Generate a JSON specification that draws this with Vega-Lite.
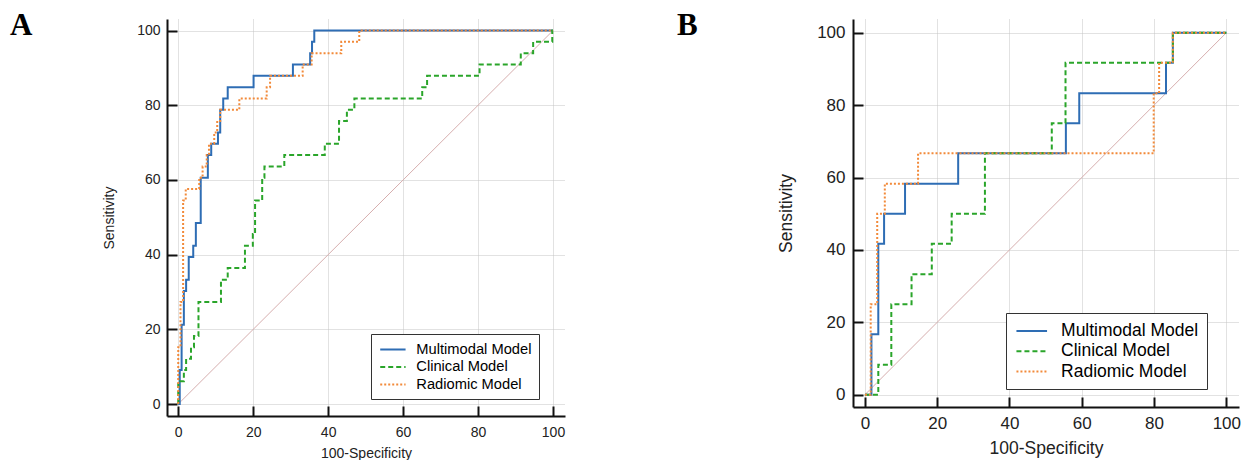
{
  "$schema": "https://vega.github.io/schema/vega-lite/v6.json",
  "background": "white",
  "padding": {"left": 10, "top": 10, "right": 0, "bottom": 0},
  "spacing": 112,
  "datasets": {
    "diag": [{"fpr": 0, "sens": 0}, {"fpr": 100, "sens": 100}],
    "rocA": [
      {"model": "Multimodal Model", "fpr": 0, "sens": 0},
      {"model": "Multimodal Model", "fpr": 0.4, "sens": 0},
      {"model": "Multimodal Model", "fpr": 0.4, "sens": 9.1},
      {"model": "Multimodal Model", "fpr": 0.9, "sens": 9.1},
      {"model": "Multimodal Model", "fpr": 0.9, "sens": 21.2},
      {"model": "Multimodal Model", "fpr": 1.5, "sens": 21.2},
      {"model": "Multimodal Model", "fpr": 1.5, "sens": 30.3},
      {"model": "Multimodal Model", "fpr": 2.1, "sens": 30.3},
      {"model": "Multimodal Model", "fpr": 2.1, "sens": 33.3},
      {"model": "Multimodal Model", "fpr": 2.8, "sens": 33.3},
      {"model": "Multimodal Model", "fpr": 2.8, "sens": 39.4},
      {"model": "Multimodal Model", "fpr": 4.0, "sens": 39.4},
      {"model": "Multimodal Model", "fpr": 4.0, "sens": 42.4},
      {"model": "Multimodal Model", "fpr": 4.7, "sens": 42.4},
      {"model": "Multimodal Model", "fpr": 4.7, "sens": 48.5},
      {"model": "Multimodal Model", "fpr": 6.0, "sens": 48.5},
      {"model": "Multimodal Model", "fpr": 6.0, "sens": 60.6},
      {"model": "Multimodal Model", "fpr": 7.9, "sens": 60.6},
      {"model": "Multimodal Model", "fpr": 7.9, "sens": 66.7},
      {"model": "Multimodal Model", "fpr": 8.8, "sens": 66.7},
      {"model": "Multimodal Model", "fpr": 8.8, "sens": 69.7},
      {"model": "Multimodal Model", "fpr": 10.6, "sens": 69.7},
      {"model": "Multimodal Model", "fpr": 10.6, "sens": 72.7},
      {"model": "Multimodal Model", "fpr": 11.2, "sens": 72.7},
      {"model": "Multimodal Model", "fpr": 11.2, "sens": 78.8},
      {"model": "Multimodal Model", "fpr": 12.0, "sens": 78.8},
      {"model": "Multimodal Model", "fpr": 12.0, "sens": 81.8},
      {"model": "Multimodal Model", "fpr": 13.2, "sens": 81.8},
      {"model": "Multimodal Model", "fpr": 13.2, "sens": 84.8},
      {"model": "Multimodal Model", "fpr": 20.1, "sens": 84.8},
      {"model": "Multimodal Model", "fpr": 20.1, "sens": 87.9},
      {"model": "Multimodal Model", "fpr": 30.6, "sens": 87.9},
      {"model": "Multimodal Model", "fpr": 30.6, "sens": 90.9},
      {"model": "Multimodal Model", "fpr": 35.2, "sens": 90.9},
      {"model": "Multimodal Model", "fpr": 35.2, "sens": 93.9},
      {"model": "Multimodal Model", "fpr": 35.7, "sens": 93.9},
      {"model": "Multimodal Model", "fpr": 35.7, "sens": 97.0},
      {"model": "Multimodal Model", "fpr": 36.3, "sens": 97.0},
      {"model": "Multimodal Model", "fpr": 36.3, "sens": 100},
      {"model": "Multimodal Model", "fpr": 100, "sens": 100},
      {"model": "Clinical Model", "fpr": 0, "sens": 0},
      {"model": "Clinical Model", "fpr": 0, "sens": 6.1},
      {"model": "Clinical Model", "fpr": 1.5, "sens": 6.1},
      {"model": "Clinical Model", "fpr": 1.5, "sens": 9.1},
      {"model": "Clinical Model", "fpr": 2.1, "sens": 9.1},
      {"model": "Clinical Model", "fpr": 2.1, "sens": 12.1},
      {"model": "Clinical Model", "fpr": 3.4, "sens": 12.1},
      {"model": "Clinical Model", "fpr": 3.4, "sens": 15.2},
      {"model": "Clinical Model", "fpr": 4.2, "sens": 15.2},
      {"model": "Clinical Model", "fpr": 4.2, "sens": 18.2},
      {"model": "Clinical Model", "fpr": 5.4, "sens": 18.2},
      {"model": "Clinical Model", "fpr": 5.4, "sens": 27.3},
      {"model": "Clinical Model", "fpr": 11.4, "sens": 27.3},
      {"model": "Clinical Model", "fpr": 11.4, "sens": 33.3},
      {"model": "Clinical Model", "fpr": 13.2, "sens": 33.3},
      {"model": "Clinical Model", "fpr": 13.2, "sens": 36.4},
      {"model": "Clinical Model", "fpr": 17.8, "sens": 36.4},
      {"model": "Clinical Model", "fpr": 17.8, "sens": 42.4},
      {"model": "Clinical Model", "fpr": 19.9, "sens": 42.4},
      {"model": "Clinical Model", "fpr": 19.9, "sens": 45.5},
      {"model": "Clinical Model", "fpr": 20.5, "sens": 45.5},
      {"model": "Clinical Model", "fpr": 20.5, "sens": 54.5},
      {"model": "Clinical Model", "fpr": 22.4, "sens": 54.5},
      {"model": "Clinical Model", "fpr": 22.4, "sens": 60.6},
      {"model": "Clinical Model", "fpr": 23.0, "sens": 60.6},
      {"model": "Clinical Model", "fpr": 23.0, "sens": 63.6},
      {"model": "Clinical Model", "fpr": 28.3, "sens": 63.6},
      {"model": "Clinical Model", "fpr": 28.3, "sens": 66.7},
      {"model": "Clinical Model", "fpr": 39.1, "sens": 66.7},
      {"model": "Clinical Model", "fpr": 39.1, "sens": 69.7},
      {"model": "Clinical Model", "fpr": 42.9, "sens": 69.7},
      {"model": "Clinical Model", "fpr": 42.9, "sens": 75.8},
      {"model": "Clinical Model", "fpr": 45.0, "sens": 75.8},
      {"model": "Clinical Model", "fpr": 45.0, "sens": 78.8},
      {"model": "Clinical Model", "fpr": 47.0, "sens": 78.8},
      {"model": "Clinical Model", "fpr": 47.0, "sens": 81.8},
      {"model": "Clinical Model", "fpr": 65.1, "sens": 81.8},
      {"model": "Clinical Model", "fpr": 65.1, "sens": 84.8},
      {"model": "Clinical Model", "fpr": 66.4, "sens": 84.8},
      {"model": "Clinical Model", "fpr": 66.4, "sens": 87.9},
      {"model": "Clinical Model", "fpr": 80.4, "sens": 87.9},
      {"model": "Clinical Model", "fpr": 80.4, "sens": 90.9},
      {"model": "Clinical Model", "fpr": 91.4, "sens": 90.9},
      {"model": "Clinical Model", "fpr": 91.4, "sens": 93.9},
      {"model": "Clinical Model", "fpr": 94.7, "sens": 93.9},
      {"model": "Clinical Model", "fpr": 94.7, "sens": 97.0},
      {"model": "Clinical Model", "fpr": 99.8, "sens": 97.0},
      {"model": "Clinical Model", "fpr": 99.8, "sens": 100},
      {"model": "Clinical Model", "fpr": 100, "sens": 100},
      {"model": "Radiomic Model", "fpr": 0, "sens": 0},
      {"model": "Radiomic Model", "fpr": 0, "sens": 15.2},
      {"model": "Radiomic Model", "fpr": 0.6, "sens": 15.2},
      {"model": "Radiomic Model", "fpr": 0.6, "sens": 27.3},
      {"model": "Radiomic Model", "fpr": 1.3, "sens": 27.3},
      {"model": "Radiomic Model", "fpr": 1.3, "sens": 54.5},
      {"model": "Radiomic Model", "fpr": 2.0, "sens": 54.5},
      {"model": "Radiomic Model", "fpr": 2.0, "sens": 57.6},
      {"model": "Radiomic Model", "fpr": 5.6, "sens": 57.6},
      {"model": "Radiomic Model", "fpr": 5.6, "sens": 60.6},
      {"model": "Radiomic Model", "fpr": 6.5, "sens": 60.6},
      {"model": "Radiomic Model", "fpr": 6.5, "sens": 63.6},
      {"model": "Radiomic Model", "fpr": 7.6, "sens": 63.6},
      {"model": "Radiomic Model", "fpr": 7.6, "sens": 66.7},
      {"model": "Radiomic Model", "fpr": 8.2, "sens": 66.7},
      {"model": "Radiomic Model", "fpr": 8.2, "sens": 69.7},
      {"model": "Radiomic Model", "fpr": 9.6, "sens": 69.7},
      {"model": "Radiomic Model", "fpr": 9.6, "sens": 72.7},
      {"model": "Radiomic Model", "fpr": 10.4, "sens": 72.7},
      {"model": "Radiomic Model", "fpr": 10.4, "sens": 75.8},
      {"model": "Radiomic Model", "fpr": 11.2, "sens": 75.8},
      {"model": "Radiomic Model", "fpr": 11.2, "sens": 78.8},
      {"model": "Radiomic Model", "fpr": 16.3, "sens": 78.8},
      {"model": "Radiomic Model", "fpr": 16.3, "sens": 81.8},
      {"model": "Radiomic Model", "fpr": 23.6, "sens": 81.8},
      {"model": "Radiomic Model", "fpr": 23.6, "sens": 84.8},
      {"model": "Radiomic Model", "fpr": 24.5, "sens": 84.8},
      {"model": "Radiomic Model", "fpr": 24.5, "sens": 87.9},
      {"model": "Radiomic Model", "fpr": 33.2, "sens": 87.9},
      {"model": "Radiomic Model", "fpr": 33.2, "sens": 90.9},
      {"model": "Radiomic Model", "fpr": 35.6, "sens": 90.9},
      {"model": "Radiomic Model", "fpr": 35.6, "sens": 93.9},
      {"model": "Radiomic Model", "fpr": 43.5, "sens": 93.9},
      {"model": "Radiomic Model", "fpr": 43.5, "sens": 97.0},
      {"model": "Radiomic Model", "fpr": 48.3, "sens": 97.0},
      {"model": "Radiomic Model", "fpr": 48.3, "sens": 100},
      {"model": "Radiomic Model", "fpr": 100, "sens": 100}
    ],
    "rocB": [
      {"model": "Multimodal Model", "fpr": 0, "sens": 0},
      {"model": "Multimodal Model", "fpr": 1.8, "sens": 0},
      {"model": "Multimodal Model", "fpr": 1.8, "sens": 16.7},
      {"model": "Multimodal Model", "fpr": 3.7, "sens": 16.7},
      {"model": "Multimodal Model", "fpr": 3.7, "sens": 41.7},
      {"model": "Multimodal Model", "fpr": 5.3, "sens": 41.7},
      {"model": "Multimodal Model", "fpr": 5.3, "sens": 50},
      {"model": "Multimodal Model", "fpr": 11.1, "sens": 50},
      {"model": "Multimodal Model", "fpr": 11.1, "sens": 58.3},
      {"model": "Multimodal Model", "fpr": 25.8, "sens": 58.3},
      {"model": "Multimodal Model", "fpr": 25.8, "sens": 66.7},
      {"model": "Multimodal Model", "fpr": 55.6, "sens": 66.7},
      {"model": "Multimodal Model", "fpr": 55.6, "sens": 75},
      {"model": "Multimodal Model", "fpr": 59.3, "sens": 75},
      {"model": "Multimodal Model", "fpr": 59.3, "sens": 83.3},
      {"model": "Multimodal Model", "fpr": 83.3, "sens": 83.3},
      {"model": "Multimodal Model", "fpr": 83.3, "sens": 91.7},
      {"model": "Multimodal Model", "fpr": 85.2, "sens": 91.7},
      {"model": "Multimodal Model", "fpr": 85.2, "sens": 100},
      {"model": "Multimodal Model", "fpr": 100, "sens": 100},
      {"model": "Clinical Model", "fpr": 0, "sens": 0},
      {"model": "Clinical Model", "fpr": 3.7, "sens": 0},
      {"model": "Clinical Model", "fpr": 3.7, "sens": 8.3},
      {"model": "Clinical Model", "fpr": 7.3, "sens": 8.3},
      {"model": "Clinical Model", "fpr": 7.3, "sens": 25},
      {"model": "Clinical Model", "fpr": 12.9, "sens": 25},
      {"model": "Clinical Model", "fpr": 12.9, "sens": 33.3},
      {"model": "Clinical Model", "fpr": 18.5, "sens": 33.3},
      {"model": "Clinical Model", "fpr": 18.5, "sens": 41.7},
      {"model": "Clinical Model", "fpr": 24.0, "sens": 41.7},
      {"model": "Clinical Model", "fpr": 24.0, "sens": 50},
      {"model": "Clinical Model", "fpr": 33.2, "sens": 50},
      {"model": "Clinical Model", "fpr": 33.2, "sens": 66.7},
      {"model": "Clinical Model", "fpr": 51.7, "sens": 66.7},
      {"model": "Clinical Model", "fpr": 51.7, "sens": 75},
      {"model": "Clinical Model", "fpr": 55.5, "sens": 75},
      {"model": "Clinical Model", "fpr": 55.5, "sens": 91.7},
      {"model": "Clinical Model", "fpr": 85.2, "sens": 91.7},
      {"model": "Clinical Model", "fpr": 85.2, "sens": 100},
      {"model": "Clinical Model", "fpr": 100, "sens": 100},
      {"model": "Radiomic Model", "fpr": 0, "sens": 0},
      {"model": "Radiomic Model", "fpr": 1.6, "sens": 0},
      {"model": "Radiomic Model", "fpr": 1.6, "sens": 25},
      {"model": "Radiomic Model", "fpr": 3.4, "sens": 25},
      {"model": "Radiomic Model", "fpr": 3.4, "sens": 50},
      {"model": "Radiomic Model", "fpr": 5.5, "sens": 50},
      {"model": "Radiomic Model", "fpr": 5.5, "sens": 58.3},
      {"model": "Radiomic Model", "fpr": 14.7, "sens": 58.3},
      {"model": "Radiomic Model", "fpr": 14.7, "sens": 66.7},
      {"model": "Radiomic Model", "fpr": 79.9, "sens": 66.7},
      {"model": "Radiomic Model", "fpr": 79.9, "sens": 83.3},
      {"model": "Radiomic Model", "fpr": 81.4, "sens": 83.3},
      {"model": "Radiomic Model", "fpr": 81.4, "sens": 91.7},
      {"model": "Radiomic Model", "fpr": 85.2, "sens": 91.7},
      {"model": "Radiomic Model", "fpr": 85.2, "sens": 100},
      {"model": "Radiomic Model", "fpr": 100, "sens": 100}
    ]
  },
  "hconcat": [
    {
      "title": {"text": "A", "anchor": "start", "frame": "group", "font": "Liberation Serif", "fontSize": 31, "fontWeight": "bold", "color": "black", "baseline": "alphabetic", "offset": -30, "dx": -157, "dy": 17},
      "width": 398,
      "height": 397,
      "layer": [
        {
          "data": {"name": "diag"},
          "mark": {"type": "line", "color": "#d6aeae", "strokeWidth": 1},
          "encoding": {
            "x": {"field": "fpr", "type": "quantitative", "scale": {"domain": [-3.0, 103.2], "nice": false, "zero": false},
              "axis": {"title": "100-Specificity", "values": [0,5,10,15,20,25,30,35,40,45,50,55,60,65,70,75,80,85,90,95,100],
                "labelExpr": "datum.value % 20 === 0 ? datum.label : ''",
                "tickSize": {"condition": {"test": "datum.value % 20 === 0", "value": -10}, "value": -5},
                "tickWidth": {"condition": {"test": "datum.value % 20 === 0", "value": 2}, "value": 1},
                "gridOpacity": {"condition": {"test": "datum.value % 20 === 0", "value": 1}, "value": 0},
                "labelPadding": 19, "labelFontSize": 14, "titleFontSize": 14, "titlePadding": 7}},
            "y": {"field": "sens", "type": "quantitative", "scale": {"domain": [-3.2, 103.1], "nice": false, "zero": false},
              "axis": {"title": "Sensitivity", "values": [0,5,10,15,20,25,30,35,40,45,50,55,60,65,70,75,80,85,90,95,100],
                "labelExpr": "datum.value % 20 === 0 ? datum.label : ''",
                "tickSize": {"condition": {"test": "datum.value % 20 === 0", "value": -10}, "value": -5},
                "tickWidth": {"condition": {"test": "datum.value % 20 === 0", "value": 2}, "value": 1},
                "gridOpacity": {"condition": {"test": "datum.value % 20 === 0", "value": 1}, "value": 0},
                "labelPadding": 17, "labelFontSize": 14, "titleFontSize": 14, "titlePadding": 20}}
          }
        },
        {
          "data": {"name": "rocA"},
          "mark": {"type": "line", "strokeWidth": 2},
          "encoding": {
            "x": {"field": "fpr", "type": "quantitative", "scale": {"domain": [-3.0, 103.2], "nice": false, "zero": false}},
            "y": {"field": "sens", "type": "quantitative", "scale": {"domain": [-3.2, 103.1], "nice": false, "zero": false}},
            "order": {"value": null},
            "color": {"field": "model", "type": "nominal",
              "scale": {"domain": ["Multimodal Model", "Clinical Model", "Radiomic Model"], "range": ["#2e6db4", "#2aa52a", "#f28a3a"]},
              "legend": {"title": null, "orient": "none", "legendX": 204, "legendY": 315, "padding": 7, "strokeColor": "#333333", "fillColor": "white", "symbolType": "M-1.75,0H1.75", "symbolSize": 210, "symbolOffset": 6.4, "symbolStrokeWidth": 2, "labelFontSize": 14.7, "labelOffset": 14.9, "rowPadding": 1.5, "labelColor": "black", "labelLimit": 400}},
            "strokeDash": {"field": "model", "type": "nominal",
              "scale": {"domain": ["Multimodal Model", "Clinical Model", "Radiomic Model"], "range": [[1, 0], [5, 3], [2, 2]]},
              "legend": {"title": null, "orient": "none", "legendX": 204, "legendY": 315, "padding": 7, "strokeColor": "#333333", "fillColor": "white", "symbolType": "M-1.75,0H1.75", "symbolSize": 210, "symbolOffset": 6.4, "symbolStrokeWidth": 2, "labelFontSize": 14.7, "labelOffset": 14.9, "rowPadding": 1.5, "labelColor": "black", "labelLimit": 400}}
          }
        }
      ]
    },
    {
      "title": {"text": "B", "anchor": "start", "frame": "group", "font": "Liberation Serif", "fontSize": 31, "fontWeight": "bold", "color": "black", "baseline": "alphabetic", "offset": -30, "dx": -176, "dy": 17},
      "width": 386,
      "height": 388,
      "layer": [
        {
          "data": {"name": "diag"},
          "mark": {"type": "line", "color": "#d6aeae", "strokeWidth": 1},
          "encoding": {
            "x": {"field": "fpr", "type": "quantitative", "scale": {"domain": [-3.3, 103.5], "nice": false, "zero": false},
              "axis": {"title": "100-Specificity", "values": [0,5,10,15,20,25,30,35,40,45,50,55,60,65,70,75,80,85,90,95,100],
                "labelExpr": "datum.value % 20 === 0 ? datum.label : ''",
                "tickSize": {"condition": {"test": "datum.value % 20 === 0", "value": -10}, "value": -5},
                "tickWidth": {"condition": {"test": "datum.value % 20 === 0", "value": 2}, "value": 1},
                "gridOpacity": {"condition": {"test": "datum.value % 20 === 0", "value": 1}, "value": 0},
                "labelPadding": 18, "labelFontSize": 17, "titleFontSize": 17.5, "titlePadding": 8}},
            "y": {"field": "sens", "type": "quantitative", "scale": {"domain": [-3.4, 103.8], "nice": false, "zero": false},
              "axis": {"title": "Sensitivity", "values": [0,5,10,15,20,25,30,35,40,45,50,55,60,65,70,75,80,85,90,95,100],
                "labelExpr": "datum.value % 20 === 0 ? datum.label : ''",
                "tickSize": {"condition": {"test": "datum.value % 20 === 0", "value": -10}, "value": -5},
                "tickWidth": {"condition": {"test": "datum.value % 20 === 0", "value": 2}, "value": 1},
                "gridOpacity": {"condition": {"test": "datum.value % 20 === 0", "value": 1}, "value": 0},
                "labelPadding": 18, "labelFontSize": 17, "titleFontSize": 17.5, "titlePadding": 21}}
          }
        },
        {
          "data": {"name": "rocB"},
          "mark": {"type": "line", "strokeWidth": 2},
          "encoding": {
            "x": {"field": "fpr", "type": "quantitative", "scale": {"domain": [-3.3, 103.5], "nice": false, "zero": false}},
            "y": {"field": "sens", "type": "quantitative", "scale": {"domain": [-3.4, 103.8], "nice": false, "zero": false}},
            "order": {"value": null},
            "color": {"field": "model", "type": "nominal",
              "scale": {"domain": ["Multimodal Model", "Clinical Model", "Radiomic Model"], "range": ["#2e6db4", "#2aa52a", "#f28a3a"]},
              "legend": {"title": null, "orient": "none", "legendX": 153, "legendY": 294, "padding": 8, "strokeColor": "#333333", "fillColor": "white", "symbolType": "M-1.75,0H1.75", "symbolSize": 306, "symbolOffset": 7.75, "symbolStrokeWidth": 2, "labelFontSize": 17.5, "labelOffset": 19.3, "rowPadding": 1.3, "labelColor": "black", "labelLimit": 400}},
            "strokeDash": {"field": "model", "type": "nominal",
              "scale": {"domain": ["Multimodal Model", "Clinical Model", "Radiomic Model"], "range": [[1, 0], [5, 3], [2, 2]]},
              "legend": {"title": null, "orient": "none", "legendX": 153, "legendY": 294, "padding": 8, "strokeColor": "#333333", "fillColor": "white", "symbolType": "M-1.75,0H1.75", "symbolSize": 306, "symbolOffset": 7.75, "symbolStrokeWidth": 2, "labelFontSize": 17.5, "labelOffset": 19.3, "rowPadding": 1.3, "labelColor": "black", "labelLimit": 400}}
          }
        }
      ]
    }
  ],
  "resolve": {"scale": {"color": "independent", "strokeDash": "independent"}, "legend": {"color": "independent", "strokeDash": "independent"}},
  "config": {
    "view": {"stroke": null},
    "font": "Liberation Sans",
    "axis": {"domainColor": "#111111", "domainWidth": 2, "tickColor": "#111111", "labelColor": "#222222", "titleColor": "#222222", "titleFontWeight": "normal", "labelFont": "Liberation Sans", "titleFont": "Liberation Sans", "gridColor": "#c4c4c4", "gridDash": [1, 1], "gridWidth": 1, "labelOverlap": false, "labelFlush": false, "labelBound": false, "grid": true}
  }
}
